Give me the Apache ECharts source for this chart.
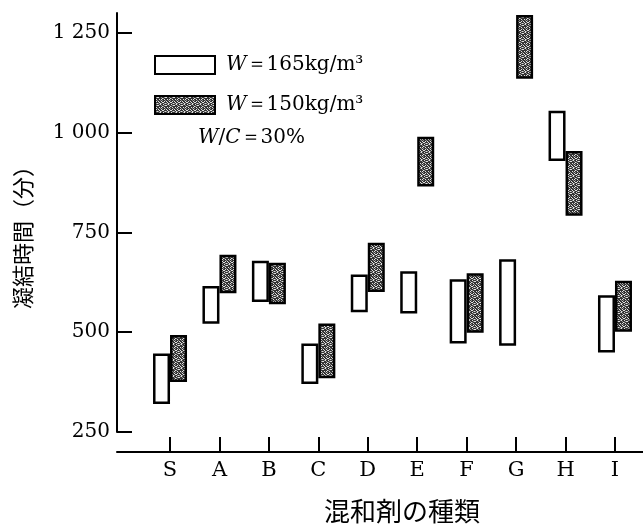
<!DOCTYPE html>
<html><head><meta charset="utf-8">
<script src="https://cdn.jsdelivr.net/npm/echarts@6/dist/echarts.min.js"></script>
<style>html,body{margin:0;padding:0;background:#fff}#c{width:643px;height:524px}</style>
</head><body><div id="c"></div>
<script>
const categories = ['S','A','B','C','D','E','F','G','H','I'];
const w165Low  = [320, 521, 576, 370, 550, 547, 472, 466, 929, 449];
const w165High = [447, 616, 679, 472, 645, 653, 633, 683, 1055, 593];
const w150Low  = [375, 598, 570, 385, 601, 865, 499, 1135, 792, 501];
const w150High = [493, 694, 674, 522, 724, 990, 648, 1295, 954, 629];
const yTickValues = [250, 500, 750, 1000, 1250];
const yTickLabels = ['250', '500', '750', '1 000', '1 250'];
const seriesNames = ['W＝165kg/m³', 'W＝150kg/m³'];
const noteText = '{i|W}/{i|C}＝30%';
const xName = '混和剤の種類';
const yName = '凝結時間（分）';

function makePattern() {
  const c = document.createElement('canvas');
  c.width = 8; c.height = 8;
  const ctx = c.getContext('2d');
  ctx.fillStyle = '#333';
  ctx.fillRect(0, 0, 8, 8);
  const light = [[0,0],[2,1],[5,0],[7,2],[1,3],[4,3],[6,5],[3,5],[0,6],[5,7],[2,7],[7,6],[3,1],[6,3],[1,5],[4,6]];
  ctx.fillStyle = '#e0e0e0';
  light.forEach(p => ctx.fillRect(p[0], p[1], 1, 1));
  ctx.fillStyle = '#8c8c8c';
  [[1,1],[4,0],[6,1],[2,4],[5,4],[0,2],[7,4],[3,7],[6,7],[1,7]].forEach(p => ctx.fillRect(p[0], p[1], 1, 1));
  return c;
}
const pattern = makePattern();
const serif = 'DejaVu Serif';
const barW = 17;

const chart = echarts.init(document.getElementById('c'), null, {renderer: 'canvas'});
chart.setOption({
  animation: false,
  backgroundColor: '#fff',
  grid: [
    {left: 117, right: 0, top: 13, bottom: 92},
    {left: 145.3, right: 3.3, top: 13, bottom: 92}
  ],
  xAxis: [
    {type: 'value', gridIndex: 0, min: 0, max: 1, offset: 20,
     axisLine: {show: true, onZero: false, lineStyle: {color: '#000', width: 2}},
     axisTick: {show: false}, axisLabel: {show: false}, splitLine: {show: false}},
    {type: 'category', gridIndex: 1, data: categories, offset: 20,
     axisLine: {show: false, onZero: false},
     axisTick: {show: true, inside: true, length: 15, alignWithLabel: true, lineStyle: {color: '#000', width: 2}},
     axisLabel: {fontFamily: serif, fontSize: 21, color: '#000', margin: 8},
     splitLine: {show: false}}
  ],
  yAxis: [
    {type: 'value', gridIndex: 0, min: 250, max: 1300, interval: 250,
     axisLine: {show: true, lineStyle: {color: '#000', width: 2}},
     axisTick: {show: true, inside: true, length: 15, customValues: yTickValues, lineStyle: {color: '#000', width: 2}},
     axisLabel: {customValues: yTickValues, formatter: v => { const k = yTickValues.indexOf(v); return k >= 0 ? yTickLabels[k] : ''; },
       fontFamily: serif, fontSize: 20, color: '#000', margin: 7},
     splitLine: {show: false}},
    {type: 'value', gridIndex: 1, min: 250, max: 1300, show: false, splitLine: {show: false}}
  ],
  legend: {
    data: seriesNames.map(n => ({name: n, icon: 'rect'})), orient: 'vertical', left: 154, top: 55, padding: 0,
    itemWidth: 60, itemHeight: 18, itemGap: 20, selectedMode: false,
    formatter: n => '{i|W}' + n.slice(1),
    textStyle: {fontFamily: serif, fontSize: 20, color: '#000', padding: [0, 0, 0, 6],
      rich: {i: {fontStyle: 'italic', fontFamily: serif, fontSize: 20, color: '#000'}}}
  },
  graphic: [
    {type: 'text', x: 198, y: 138, style: {text: noteText, fill: '#000', font: '20px "DejaVu Serif"', verticalAlign: 'middle',
      rich: {i: {fontStyle: 'italic', fontFamily: serif, fontSize: 20, fill: '#000'}}}},
    {type: 'text', x: 23, y: 232, rotation: Math.PI / 2,
     style: {text: yName, fill: '#000', font: '22px "Noto Sans CJK JP"', align: 'center', verticalAlign: 'middle'}},
    {type: 'text', x: 402, y: 511,
     style: {text: xName, fill: '#000', font: '26px "Noto Sans CJK JP"', align: 'center', verticalAlign: 'middle'}}
  ],
  series: [
    {type: 'bar', name: 'base165', stack: 'a', xAxisIndex: 1, yAxisIndex: 1, data: w165Low,
     barWidth: barW, barGap: '0%', silent: true, itemStyle: {color: 'transparent'}},
    {type: 'bar', name: seriesNames[0], stack: 'a', xAxisIndex: 1, yAxisIndex: 1,
     data: w165High.map((h, i) => h - w165Low[i]),
     barWidth: barW, barGap: '0%', itemStyle: {color: '#fff', borderColor: '#000', borderWidth: 2.5}},
    {type: 'bar', name: 'base150', stack: 'b', xAxisIndex: 1, yAxisIndex: 1, data: w150Low,
     barWidth: barW, barGap: '0%', silent: true, itemStyle: {color: 'transparent'}},
    {type: 'bar', name: seriesNames[1], stack: 'b', xAxisIndex: 1, yAxisIndex: 1,
     data: w150High.map((h, i) => h - w150Low[i]),
     barWidth: barW, barGap: '0%', itemStyle: {color: {image: pattern, repeat: 'repeat'}, borderColor: '#000', borderWidth: 2.5}}
  ]
});
</script></body></html>
